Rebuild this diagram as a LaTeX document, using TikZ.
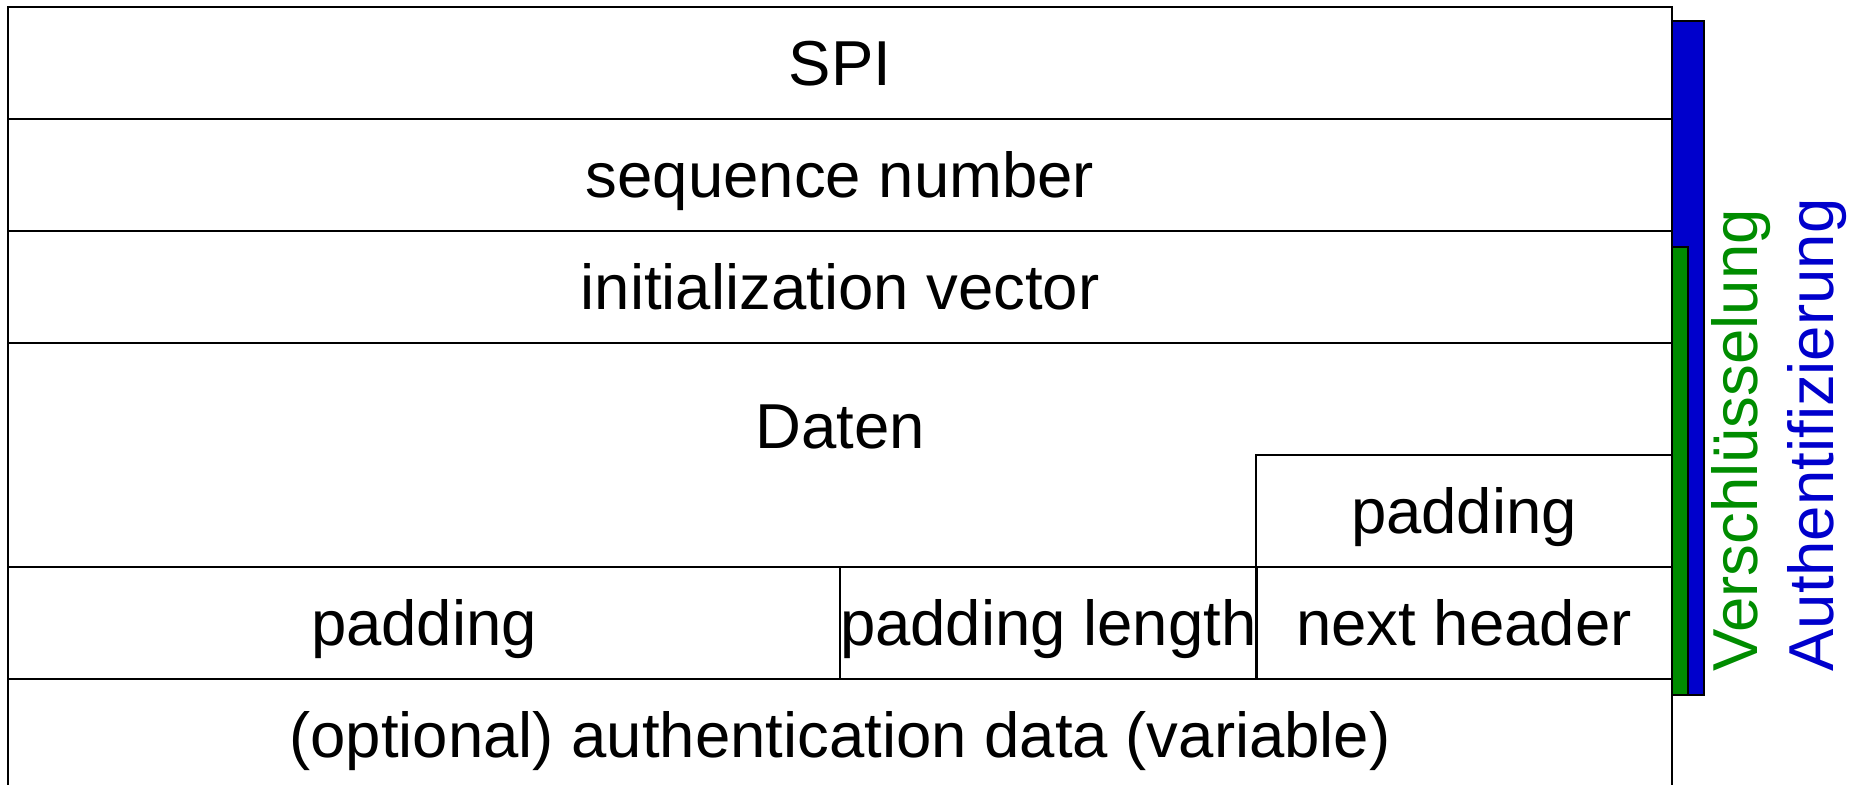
\documentclass[tikz,border=0pt]{standalone}
\usepackage{fontspec}
\setmainfont{Liberation Sans}
\definecolor{encgreen}{RGB}{0,140,0}
\definecolor{authblue}{RGB}{0,0,204}
\begin{document}
\begin{tikzpicture}[x=0.5pt, y=-0.5pt,
  every node/.style={font=\fontsize{31.75pt}{38pt}\selectfont},
  field/.style={draw, line width=0.9pt, rectangle, inner sep=0pt, outer sep=0pt,
                anchor=north west, text height=22.7pt, text depth=0pt},
  label/.style={inner sep=0pt, text height=22.7pt, text depth=0pt},
  bar/.style={draw, line width=0.9pt},
  sidetext/.style={rotate=90, anchor=base west, inner sep=0pt}]
\useasboundingbox (0,0) rectangle (1851,784);
\clip (0,0) rectangle (1851,784);
\fill[white] (0,0) rectangle (1851,784);

% fragments of the heading line above the frame
\node[anchor=base, inner sep=0pt] (hq) at (553,-11) {„};
\node[anchor=base, inner sep=0pt] (hg) at (923,-16) {g};

% header fields
\node[field, minimum width=832pt, minimum height=56pt] (spi) at (8,7) {SPI};
\node[field, minimum width=832pt, minimum height=56pt] (seq) at (8,119) {sequence number};
\node[field, minimum width=832pt, minimum height=56pt] (iv) at (8,231) {initialization vector};

% payload with trailing padding
\node[field, minimum width=832pt, minimum height=112pt] (data) at (8,343) {};
\node[label] (datatext) at (840,426) {Daten};
\node[field, minimum width=208pt, minimum height=56pt] (padtop) at (1256,455) {padding};

% trailer
\node[field, minimum width=416pt, minimum height=56pt] (pad) at (8,567) {padding};
\node[field, minimum width=208pt, minimum height=56pt] (padlen) at (840,567) {padding length};
\node[field, minimum width=208pt, minimum height=56pt] (nh) at (1256,567) {next header};

% authentication data
\node[field, minimum width=832pt, minimum height=56pt] (auth) at (8,679) {(optional) authentication data (variable)};

% coverage bars
\draw[bar, fill=authblue] (1672,21) rectangle (1704,695);
\draw[bar, fill=encgreen] (1672,247) rectangle (1688,695);

\node[sidetext, text=encgreen] (enc) at (1757,672) {Verschlüsselung};
\node[sidetext, text=authblue] (authl) at (1833,672) {Authentifizierung};
\end{tikzpicture}
\end{document}
